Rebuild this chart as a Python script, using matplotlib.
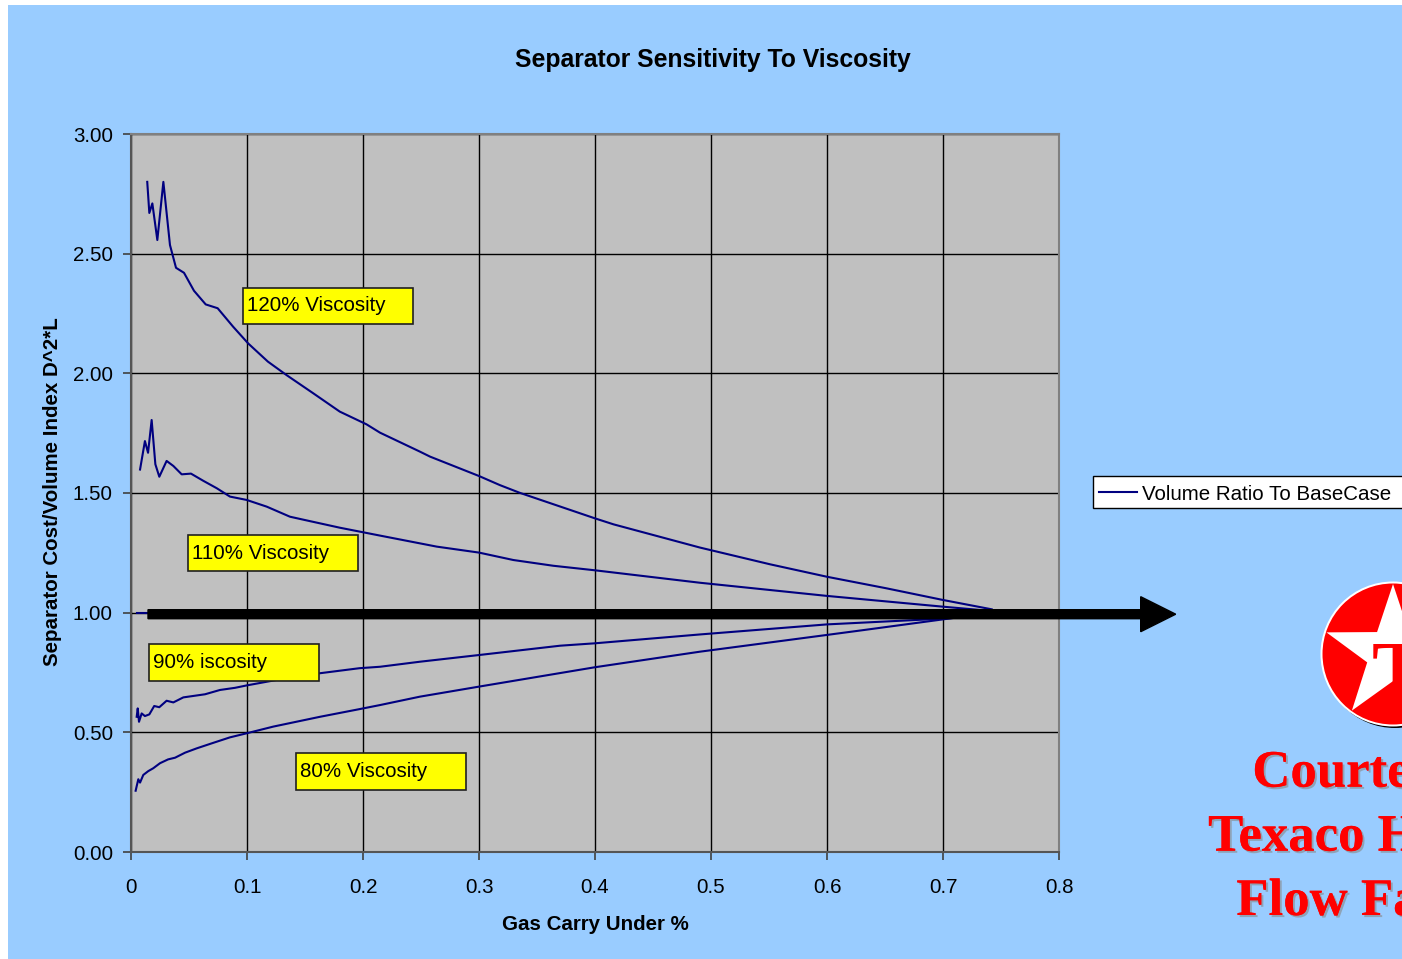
import matplotlib
matplotlib.use("Agg")
import matplotlib.pyplot as plt
from matplotlib.patches import Rectangle, Circle, Polygon, FancyArrow
from matplotlib.lines import Line2D
from matplotlib.transforms import IdentityTransform
import matplotlib.patheffects as pe
import numpy as np

# ---------------- data ----------------
x_120 = [0.014, 0.0158, 0.0184, 0.0227, 0.0279, 0.0336, 0.0388, 0.0457, 0.0543, 0.0644,
         0.0747, 0.088, 0.101, 0.118, 0.134, 0.157, 0.180, 0.203, 0.2147, 0.249, 0.2578,
         0.30, 0.318, 0.335, 0.40, 0.416, 0.4905, 0.551, 0.60, 0.651, 0.70, 0.742]
y_120 = [2.80, 2.67, 2.71, 2.557, 2.80, 2.536, 2.441, 2.42, 2.345, 2.288,
         2.272, 2.195, 2.125, 2.049, 1.993, 1.917, 1.840, 1.787, 1.752, 1.673, 1.652,
         1.571, 1.533, 1.501, 1.394, 1.369, 1.272, 1.202, 1.150, 1.102, 1.053, 1.014]

x_110 = [0.0078, 0.012, 0.0147, 0.0178, 0.021, 0.0244, 0.0307, 0.0365, 0.0437, 0.0517,
         0.0623, 0.0739, 0.0853, 0.0997, 0.117, 0.137, 0.150, 0.18, 0.2147, 0.2635,
         0.30, 0.3296, 0.364, 0.40, 0.4905, 0.60, 0.70, 0.742]
y_110 = [1.598, 1.717, 1.668, 1.805, 1.62, 1.568, 1.634, 1.613, 1.578, 1.581,
         1.551, 1.520, 1.485, 1.471, 1.443, 1.401, 1.387, 1.355, 1.322, 1.276,
         1.251, 1.220, 1.196, 1.177, 1.125, 1.070, 1.025, 1.007]

x_100 = [0.005, 0.742]
y_100 = [1.0, 1.0]

x_90 = [0.0049, 0.0058, 0.0069, 0.0092, 0.012, 0.0158, 0.020, 0.0244, 0.0307, 0.0365,
        0.0451, 0.0638, 0.0767, 0.0897, 0.0997, 0.1256, 0.163, 0.197, 0.2147, 0.249,
        0.30, 0.370, 0.40, 0.4905, 0.60, 0.70, 0.709]
y_90 = [0.565, 0.600, 0.544, 0.579, 0.568, 0.575, 0.610, 0.605, 0.632, 0.625,
        0.646, 0.659, 0.677, 0.686, 0.696, 0.719, 0.747, 0.768, 0.774, 0.795,
        0.823, 0.862, 0.872, 0.909, 0.951, 0.975, 0.978]

x_80 = [0.004, 0.0063, 0.0078, 0.0106, 0.0149, 0.0192, 0.025, 0.032, 0.038, 0.0466,
        0.0566, 0.0696, 0.0853, 0.0997, 0.1227, 0.163, 0.197, 0.2147, 0.249, 0.30,
        0.40, 0.4417, 0.4905, 0.60, 0.628, 0.70, 0.709]
y_80 = [0.256, 0.304, 0.290, 0.322, 0.338, 0.350, 0.371, 0.387, 0.394, 0.415,
        0.433, 0.454, 0.479, 0.496, 0.524, 0.565, 0.597, 0.614, 0.649, 0.691,
        0.772, 0.802, 0.837, 0.907, 0.925, 0.972, 0.978]

series_name = "Volume Ratio To BaseCase"
label_texts = ["120% Viscosity", "110% Viscosity", "90% iscosity", "80% Viscosity"]
x_ticks = [0, 0.1, 0.2, 0.3, 0.4, 0.5, 0.6, 0.7, 0.8]
x_tick_labels = ["0", "0.1", "0.2", "0.3", "0.4", "0.5", "0.6", "0.7", "0.8"]
y_ticks = [0.0, 0.5, 1.0, 1.5, 2.0, 2.5, 3.0]

# ---------------- figure ----------------
W, H = 1402, 959
DPI = 100
FS = 14.8
plt.rcParams['font.family'] = ['Liberation Sans', 'DejaVu Sans']
fig = plt.figure(figsize=(W / DPI, H / DPI), dpi=DPI, facecolor='white')

def fx(px):
    return px / W

def fy(py):
    return 1 - py / H

# light blue background (white strip on the left and top)
fig.add_artist(Rectangle((fx(8), 0), 1 - fx(8), fy(5), transform=fig.transFigure,
                         facecolor='#99CCFF', edgecolor='none', zorder=-10))

ax = fig.add_axes([fx(131), fy(852), fx(1059) - fx(131), fy(134) - fy(852)])
ax.set_facecolor('#C0C0C0')
ax.set_xlim(0, 0.8)
ax.set_ylim(0, 3.0)

line_kw = dict(color='#000080', lw=1.5, zorder=3)
ax.plot(x_120, y_120, **line_kw)
ax.plot(x_110, y_110, **line_kw)
ax.plot(x_100, y_100, **line_kw)
ax.plot(x_90, y_90, **line_kw)
ax.plot(x_80, y_80, **line_kw)

ax.set_xticks(x_ticks)
ax.set_xticklabels(x_tick_labels)
ax.set_yticks(y_ticks)
ax.set_yticklabels([f"{v:.2f}" for v in y_ticks])
ax.grid(True, color='black', lw=1.0)
ax.set_axisbelow(True)
ax.tick_params(axis='both', direction='out', length=6, width=1.2, color='#404040',
               labelsize=FS, labelcolor='black')
ax.tick_params(axis='x', pad=12.5)
ax.tick_params(axis='y', pad=7)
for side in ['left', 'bottom']:
    ax.spines[side].set_color('#555555')
    ax.spines[side].set_linewidth(1.5)
for side in ['top', 'right']:
    ax.spines[side].set_color('#808080')
    ax.spines[side].set_linewidth(1.5)

# annotation boxes
boxes = [(0.0968, 0.2434, 2.205, 2.358),
         (0.0491, 0.1953, 1.174, 1.3245),
         (0.0158, 0.1620, 0.7145, 0.868),
         (0.1420, 0.2884, 0.259, 0.412)]
for (x0, x1, y0, y1), txt in zip(boxes, label_texts):
    ax.add_patch(Rectangle((x0, y0), x1 - x0, y1 - y0, facecolor='#FFFF00',
                           edgecolor='#202020', lw=1.2, zorder=5))
    ax.text(x0 + 0.0035, (y0 + y1) / 2, txt, fontsize=FS, ha='left', va='center',
            zorder=6)

# titles
fig.text(fx(713), fy(60), "Separator Sensitivity To Viscosity", fontsize=17.8,
         fontweight='bold', ha='center', va='center')
fig.text(fx(595), fy(925), "Gas Carry Under %", fontsize=FS, fontweight='bold',
         ha='center', va='center')
fig.text(fx(52), fy(492), "Separator Cost/Volume Index D^2*L", fontsize=FS,
         fontweight='bold', ha='center', va='center', rotation=90)

# big arrow (display pixel coordinates)
ident = IdentityTransform()
arrow = FancyArrow(148, H - 614.2, 1175.7 - 148, 0, width=9, head_width=35,
                   head_length=35, length_includes_head=True, facecolor='black',
                   edgecolor='black', transform=ident, zorder=20)
fig.add_artist(arrow)

# legend box (partly outside the figure)
fig.add_artist(Rectangle((1092.7, H - 508.3), 400, 32.6, transform=ident,
                         facecolor='white', edgecolor='black', lw=1.0, zorder=15))
fig.add_artist(Line2D([1099, 1137], [H - 492, H - 492], transform=ident,
                      color='#000080', lw=1.5, zorder=16))
fig.text(fx(1141.5), fy(494), series_name, fontsize=FS, ha='left', va='center',
         zorder=17)

# logo
cx, cy, R = 1393, H - 654, 71
fig.add_artist(Circle((cx + 2, cy - 2), R + 1, transform=ident, facecolor='black',
                      edgecolor='none', zorder=10))
fig.add_artist(Circle((cx, cy), R + 1.5, transform=ident, facecolor='white',
                      edgecolor='none', zorder=11))
fig.add_artist(Circle((cx, cy), R - 0.5, transform=ident, facecolor='#FF0000',
                      edgecolor='none', zorder=12))
star = []
for k in range(10):
    ang = np.deg2rad(90 + 36 * k)
    r = R - 1 if k % 2 == 0 else 0.382 * R
    star.append((cx + r * np.cos(ang), cy + r * np.sin(ang)))
fig.add_artist(Polygon(star, closed=True, transform=ident, facecolor='white',
                       edgecolor='none', zorder=13))
fig.text(fx(1372), fy(697), "T", fontsize=58, fontweight='bold', color='#FF0000',
         family=['Liberation Serif', 'DejaVu Serif'], ha='left', va='baseline',
         zorder=14)

shadow = [pe.withSimplePatchShadow(offset=(1.5, -1.5), shadow_rgbFace='#888888',
                                   alpha=0.6), pe.Normal()]
for txt, base in [("Courtesy of", 786.7), ("Texaco Humble", 850.7),
                  ("Flow Facility", 915)]:
    fig.text(fx(1383.5), fy(base), txt, fontsize=38, fontweight='bold',
             color='#FF0000', family=['Liberation Serif', 'DejaVu Serif'],
             ha='center', va='baseline', path_effects=shadow)

fig.savefig("out.png", dpi=DPI, facecolor=fig.get_facecolor())
